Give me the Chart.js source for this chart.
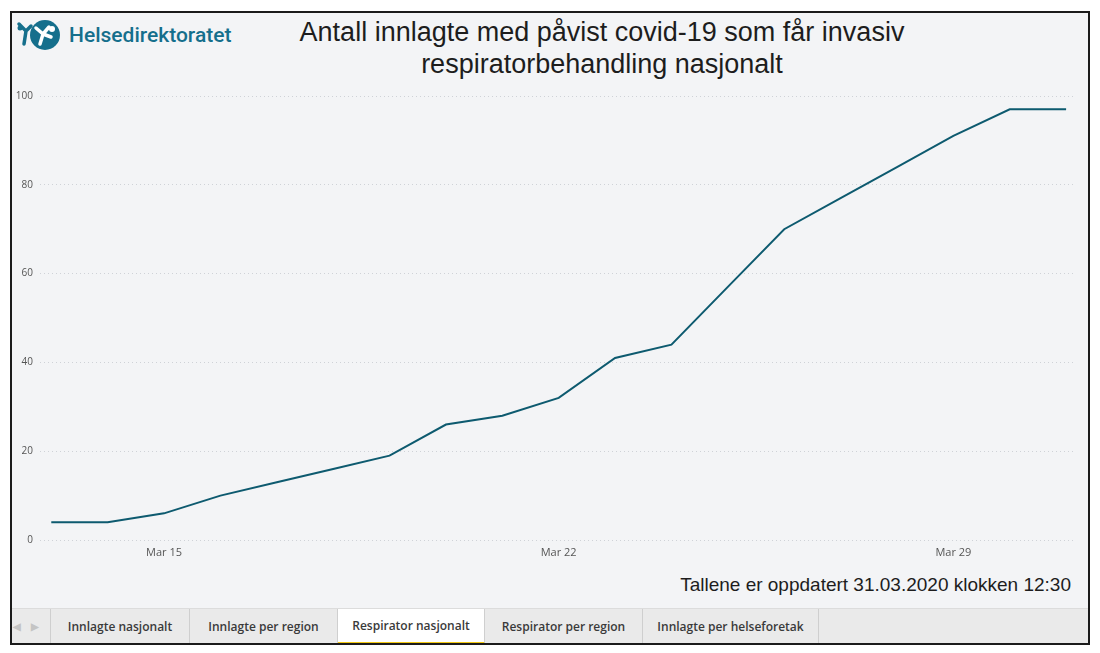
<!DOCTYPE html>
<html>
<head>
<meta charset="utf-8">
<script src="https://cdn.jsdelivr.net/npm/chart.js@4"></script>
<style>
    body { margin: 0; background: #fff; font-family: "Liberation Sans", Arial, sans-serif; }
    #frame {
        position: absolute; left: 10px; top: 11px; width: 1076px; height: 630px;
        border: 2px solid #1b1b1b; background: #f3f4f6; overflow: hidden;
    }
    #logo { position: absolute; left: 4px; top: 5px; display: flex; align-items: center; }
    #logo span { font-family: Roboto, "Open Sans", sans-serif; font-weight: 500; font-size: 21px; color: #156f8c; margin-left: 5px; }
    #title {
        position: absolute; left: 190px; width: 800px; top: 3px; text-align: center;
        font-size: 27px; line-height: 32px; color: #1d1d1d;
    }
    #updated { position: absolute; right: 17px; top: 561px; font-size: 19px; color: #1d1d1d; }
    #chartBox { position: absolute; left: 0; top: 70px; width: 1062px; height: 482px; }
    #tabs {
        position: absolute; left: 0; top: 595px; width: 1076px; height: 35px;
        background: #eaeaea; border-top: 1px solid #dcdcdc; display: flex;
        font-family: "Open Sans", sans-serif; font-weight: 600; font-size: 12px; color: #3a3a3a;
    }
    #tabs .arrows { width: 38px; border-right: 1px solid #cfcfcf; color: #c4c4c4; font-size: 10px; line-height: 35px; text-align: center; letter-spacing: 10px; }
    #tabs .tab { border-right: 1px solid #cfcfcf; line-height: 35px; text-align: center; }
    #tabs .tab.active { background: #fff; border-bottom: 2px solid #f2c811; line-height: 33px; }
</style>
</head>
<body>
<div id="frame">
    <div id="logo">
        <svg width="48" height="34" viewBox="0 0 48 34">
            <circle cx="29" cy="17" r="15" fill="#156f8c"/>
            <path d="M20 10 L27 16 L24 26 M27 16 L35 19 M27 16 L33 9" stroke="#fff" stroke-width="3.5" fill="none" stroke-linecap="round"/>
            <circle cx="36" cy="11" r="3" fill="#fff"/>
            <path d="M3 6 L10 13 L8 26 M10 13 L15 8" stroke="#156f8c" stroke-width="3.5" fill="none" stroke-linecap="round"/>
            <circle cx="4" cy="10" r="2.5" fill="#156f8c"/>
        </svg>
        <span>Helsedirektoratet</span>
    </div>
    <div id="title">Antall innlagte med påvist covid-19 som får invasiv<br>respiratorbehandling nasjonalt</div>
    <div id="chartBox"><canvas id="chart"></canvas></div>
    <div id="updated">Tallene er oppdatert 31.03.2020 klokken 12:30</div>
    <div id="tabs">
        <div class="arrows">&#9664;&#9654;</div>
        <div class="tab" style="width:138px">Innlagte nasjonalt</div>
        <div class="tab" style="width:147px">Innlagte per region</div>
        <div class="tab active" style="width:146px">Respirator nasjonalt</div>
        <div class="tab" style="width:157px">Respirator per region</div>
        <div class="tab" style="width:175px">Innlagte per helseforetak</div>
    </div>
</div>
<script>
    // Days of March 2020
    const days = [13, 14, 15, 16, 17, 18, 19, 20, 21, 22, 23, 24, 25, 26, 27, 28, 29, 30, 31];
    const respirator = [4, 4, 6, 10, 13, 16, 19, 26, 28, 32, 41, 44, 57, 70, 77, 84, 91, 97, 97];
    const tickDays = [15, 22, 29];
    const yTicks = [0, 20, 40, 60, 80, 100];

    const colors = {
        line: '#0d5a6f',
        text: '#555',
        grid: '#cfd2d7'
    };

    const ctx = document.getElementById('chart').getContext('2d');

    new Chart(ctx, {
        type: 'line',
        data: {
            datasets: [{
                data: days.map((d, i) => ({ x: d, y: respirator[i] })),
                borderColor: colors.line,
                borderWidth: 2,
                pointRadius: 0,
                tension: 0
            }]
        },
        options: {
            responsive: true,
            maintainAspectRatio: false,
            animation: false,
            layout: { padding: { top: 10, right: 0, bottom: 0, left: 0 } },
            plugins: {
                legend: { display: false },
                tooltip: { enabled: false }
            },
            scales: {
                x: {
                    type: 'linear',
                    min: 12.8,
                    max: 31.14,
                    afterBuildTicks: scale => { scale.ticks = tickDays.map(v => ({ value: v })); },
                    afterFit: scale => { scale.height = 25; },
                    border: { display: false },
                    grid: { display: false, drawTicks: false },
                    ticks: {
                        color: colors.text,
                        padding: 6,
                        font: { family: 'Open Sans', size: 11 },
                        callback: v => 'Mar ' + v
                    }
                },
                y: {
                    min: 0,
                    max: 100,
                    afterBuildTicks: scale => { scale.ticks = yTicks.map(v => ({ value: v })); },
                    afterFit: scale => { scale.width = 28; },
                    border: { display: false, dash: [1, 3] },
                    grid: {
                        color: colors.grid,
                        drawTicks: false
                    },
                    ticks: {
                        color: colors.text,
                        padding: 7,
                        font: { family: 'Open Sans', size: 10 }
                    }
                }
            }
        }
    });
</script>
</body>
</html>
